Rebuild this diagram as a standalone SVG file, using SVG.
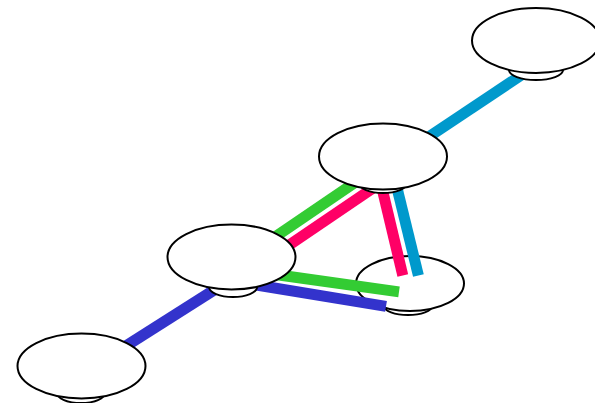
<svg xmlns="http://www.w3.org/2000/svg" width="595" height="403" viewBox="0 0 595 403">
  <style>
    .disc { fill: #ffffff; stroke: #000000; stroke-width: 2; }
    .edge { fill: none; stroke-width: 11; stroke-linecap: butt; }
    .cyan { stroke: #0099cc; }
    .pink { stroke: #ff0066; }
    .green { stroke: #33cc33; }
    .blue { stroke: #3333cc; }
  </style>
  <rect width="595" height="403" fill="#ffffff"/>

  <!-- lower-right node sits beneath the connectors that end on it -->
  <g id="node-d">
    <ellipse class="disc" cx="408" cy="306" rx="24" ry="9"/>
    <ellipse class="disc" cx="410" cy="283.5" rx="54" ry="27.5"/>
  </g>

  <g id="connectors">
    <line class="edge cyan" x1="535" y1="66" x2="415" y2="146"/>
    <line class="edge pink" x1="381" y1="184" x2="402.8" y2="275.5"/>
    <line class="edge cyan" x1="396.3" y1="185" x2="418.4" y2="275.5"/>
    <line class="edge green" x1="362" y1="177.8" x2="265" y2="243.8"/>
    <line class="edge pink" x1="375" y1="186.7" x2="280" y2="251.3"/>
    <line class="edge green" x1="270" y1="273.8" x2="399" y2="291.9"/>
    <line class="edge blue" x1="245" y1="283.2" x2="386" y2="306.4"/>
    <line class="edge blue" x1="222" y1="285" x2="118" y2="351"/>
  </g>

  <g id="node-a">
    <ellipse class="disc" cx="536" cy="70" rx="27" ry="10"/>
    <ellipse class="disc" cx="536" cy="40.5" rx="64" ry="32.5"/>
  </g>
  <g id="node-b">
    <ellipse class="disc" cx="383" cy="183" rx="24" ry="10"/>
    <ellipse class="disc" cx="383" cy="156.5" rx="64" ry="33"/>
  </g>
  <g id="node-c">
    <ellipse class="disc" cx="233" cy="287" rx="24" ry="10"/>
    <ellipse class="disc" cx="231.5" cy="257" rx="64" ry="32.5"/>
  </g>
  <g id="node-e">
    <ellipse class="disc" cx="81" cy="393" rx="24" ry="10"/>
    <ellipse class="disc" cx="81.5" cy="366" rx="64" ry="32.5"/>
  </g>
</svg>
